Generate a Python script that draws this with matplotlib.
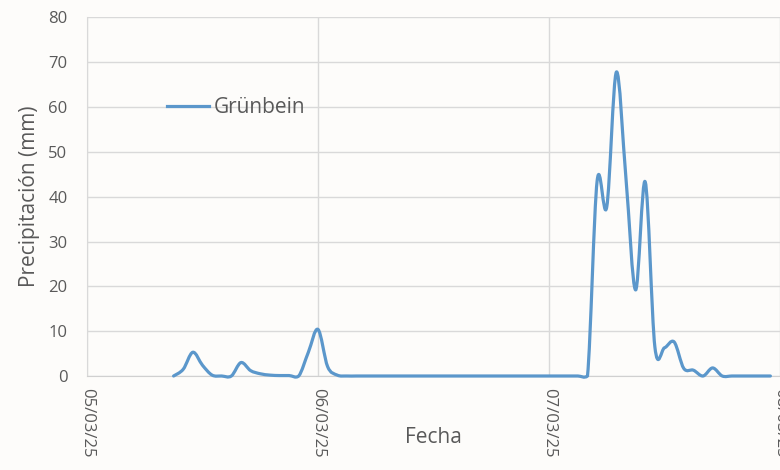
import matplotlib
matplotlib.use('Agg')
import matplotlib.pyplot as plt
import matplotlib.dates as mdates
from matplotlib.path import Path
from matplotlib.patches import PathPatch
import pandas as pd
import numpy as np

plt.rcParams['font.family'] = ['Open Sans', 'DejaVu Sans']

# Precipitación horaria (mm), estación Grünbein
dias = ['2025-03-05', '2025-03-06', '2025-03-07']
hora_inicio = [9, 0, 0]
lluvia_05 = [0, 1.5, 5.3, 2.4, 0.2, 0, 0, 3.0, 1.2, 0.5, 0.2, 0.1, 0.1, 0, 5.3]
lluvia_06 = [10.4, 2.1, 0.2, 0, 0, 0, 0, 0, 0, 0, 0, 0,
             0, 0, 0, 0, 0, 0, 0, 0, 0, 0, 0, 0]
lluvia_07 = [0, 0, 0, 0, 0, 43.5, 37.7, 67.8, 44.0, 19.2, 43.3, 6.5,
             6.3, 7.6, 1.7, 1.3, 0, 1.8, 0, 0, 0, 0, 0, 0]
etiqueta = 'Grünbein'

color_linea = '#5B97CB'
gris = '#595959'

tiempos = []
valores = []
for dia, h0, serie in zip(dias, hora_inicio, [lluvia_05, lluvia_06, lluvia_07]):
    for i, v in enumerate(serie):
        tiempos.append(pd.Timestamp(dia) + pd.Timedelta(hours=h0 + i))
        valores.append(v)

x = mdates.date2num(tiempos)
y = np.array(valores, dtype=float)

# línea suavizada estilo Excel (Bezier cúbica, tipo Catmull-Rom)
pts = np.column_stack([x, y])
verts = [pts[0]]
codes = [Path.MOVETO]
n = len(pts)
for i in range(n - 1):
    p0 = pts[max(i - 1, 0)]
    p1 = pts[i]
    p2 = pts[i + 1]
    p3 = pts[min(i + 2, n - 1)]
    c1 = p1 + (p2 - p0) / 6.0
    c2 = p2 - (p3 - p1) / 6.0
    # que la curva no baje mucho de cero
    c1[1] = max(c1[1], -0.6)
    c2[1] = max(c2[1], -0.6)
    verts += [c1, c2, p2]
    codes += [Path.CURVE4] * 3

fig = plt.figure(figsize=(7.8, 4.7), dpi=100)
fig.patch.set_facecolor('#FDFCFA')
ax = fig.add_axes([0.1115, 0.2, 0.8885, 0.763])
ax.set_facecolor('#FDFCFA')

patch = PathPatch(Path(verts, codes), facecolor='none', edgecolor=color_linea,
                  lw=2.3, capstyle='round', joinstyle='round', zorder=3,
                  clip_on=False)
ax.add_patch(patch)
# línea vacía sólo para la leyenda
ax.plot([], [], color=color_linea, lw=2.3, label=etiqueta)

ax.set_xlim(mdates.date2num(pd.Timestamp('2025-03-05')),
            mdates.date2num(pd.Timestamp('2025-03-08')))
ax.set_ylim(0, 80)
ax.set_yticks(range(0, 81, 10))
ax.xaxis.set_major_locator(mdates.DayLocator())
ax.xaxis.set_major_formatter(mdates.DateFormatter('%d/%m/%y'))

ax.grid(True, color='#D9D9D9', lw=1)
ax.set_axisbelow(True)
for s in ['top', 'right']:
    ax.spines[s].set_visible(False)
ax.spines['left'].set_color('#D9D9D9')
ax.spines['bottom'].set_color('#D0D0D0')

ax.tick_params(axis='both', length=0, colors=gris, labelsize=12)
ax.tick_params(axis='y', pad=14)
ax.tick_params(axis='x', pad=9)
for lbl in ax.get_xticklabels():
    lbl.set_rotation(270)
    lbl.set_va('top')
    lbl.set_ha('center')

ax.set_xlabel('Fecha', color=gris, fontsize=15)
ax.xaxis.set_label_coords(0.5, -0.143)
ax.set_ylabel('Precipitación (mm)', color=gris, fontsize=15)
ax.yaxis.set_label_coords(-0.068, 0.5)

leg = ax.legend(loc='center left', bbox_to_anchor=(0.116, 0.749), frameon=False,
                fontsize=15, handlelength=2.0, handletextpad=0.25,
                borderpad=0, borderaxespad=0)
for t in leg.get_texts():
    t.set_color(gris)

fig.savefig('out.png', dpi=100, facecolor=fig.get_facecolor())
